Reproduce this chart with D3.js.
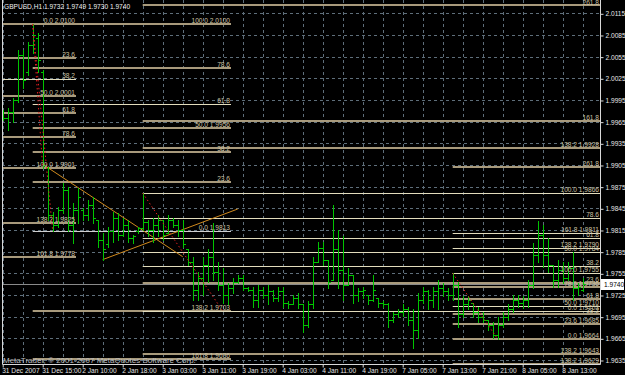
<!DOCTYPE html>
<html><head><meta charset="utf-8">
<script src="https://cdn.jsdelivr.net/npm/d3@7"></script>
<style>body{margin:0;background:#000;overflow:hidden}svg{display:block}</style>
</head><body>
<svg id="c" width="625" height="375"></svg>
<script>
// ---------- DATA ----------
const symbolTitle = "GBPUSD,H1 1.9732 1.9749 1.9730 1.9740";
const copyright = "MetaTrader, \u00a9 2001-2007 MetaQuotes Software Corp.";
const opens=[1.9979,1.9970,1.9979,1.9995,2.0057,2.0034,2.0071,2.0081,2.0034,1.9901,
1.9836,1.9822,1.9843,1.9871,1.9822,1.9843,1.9843,1.9836,1.9850,1.9829,
1.9801,1.9795,1.9813,1.9832,1.9808,1.9822,1.9804,1.9813,1.9818,1.9826,
1.9815,1.9822,1.9829,1.9811,1.9829,1.9822,1.9815,1.9788,1.9771,1.9732,
1.9749,1.9767,1.9777,1.9757,1.9739,1.9725,1.9735,1.9743,1.9749,1.9735,
1.9732,1.9718,1.9732,1.9725,1.9730,1.9721,1.9730,1.9714,1.9712,1.9721,
1.9712,1.9684,1.9712,1.9771,1.9790,1.9774,1.9746,1.9788,1.9760,1.9739,
1.9753,1.9725,1.9730,1.9725,1.9718,1.9721,1.9714,1.9712,1.9691,1.9698,
1.9702,1.9705,1.9691,1.9677,1.9718,1.9730,1.9718,1.9730,1.9735,1.9730,
1.9725,1.9739,1.9698,1.9712,1.9714,1.9702,1.9694,1.9691,1.9683,1.9670,
1.9684,1.9694,1.9705,1.9718,1.9714,1.9718,1.9739,1.9781,1.9808,1.9781,
1.9767,1.9746,1.9760,1.9749,1.9763,1.9735,1.9732];
const highs=[1.9981,1.9984,1.9998,2.0064,2.0064,2.0075,2.0100,2.0088,2.0037,1.9902,
1.9840,1.9847,1.9880,1.9875,1.9853,1.9873,1.9846,1.9857,1.9861,1.9829,
1.9811,1.9819,1.9840,1.9839,1.9832,1.9829,1.9808,1.9819,1.9866,1.9829,
1.9832,1.9836,1.9829,1.9836,1.9832,1.9829,1.9829,1.9788,1.9778,1.9757,
1.9777,1.9788,1.9825,1.9770,1.9763,1.9742,1.9749,1.9753,1.9753,1.9736,
1.9736,1.9739,1.9736,1.9739,1.9732,1.9736,1.9736,1.9716,1.9725,1.9728,
1.9712,1.9716,1.9777,1.9799,1.9799,1.9774,1.9850,1.9815,1.9806,1.9763,
1.9753,1.9735,1.9736,1.9725,1.9753,1.9721,1.9716,1.9714,1.9702,1.9705,
1.9712,1.9709,1.9705,1.9728,1.9736,1.9732,1.9736,1.9746,1.9742,1.9735,
1.9755,1.9743,1.9723,1.9723,1.9714,1.9709,1.9701,1.9691,1.9687,1.9694,
1.9701,1.9712,1.9725,1.9725,1.9723,1.9746,1.9797,1.9828,1.9822,1.9804,
1.9767,1.9774,1.9771,1.9770,1.9784,1.9742,1.9749];
const lows=[1.9967,1.9954,1.9965,1.9992,2.0012,2.0030,2.0060,2.0034,1.9901,1.9829,
1.9813,1.9819,1.9839,1.9813,1.9797,1.9825,1.9829,1.9829,1.9825,1.9792,
1.9774,1.9792,1.9799,1.9801,1.9806,1.9799,1.9797,1.9811,1.9815,1.9806,
1.9799,1.9806,1.9801,1.9811,1.9819,1.9806,1.9792,1.9767,1.9718,1.9718,
1.9725,1.9743,1.9746,1.9732,1.9714,1.9712,1.9728,1.9742,1.9732,1.9730,
1.9709,1.9709,1.9721,1.9712,1.9716,1.9716,1.9709,1.9707,1.9712,1.9707,
1.9674,1.9680,1.9707,1.9770,1.9767,1.9735,1.9746,1.9735,1.9718,1.9739,
1.9714,1.9716,1.9721,1.9712,1.9716,1.9709,1.9709,1.9681,1.9687,1.9694,
1.9696,1.9684,1.9652,1.9666,1.9714,1.9705,1.9709,1.9705,1.9723,1.9718,
1.9718,1.9680,1.9695,1.9705,1.9694,1.9687,1.9687,1.9677,1.9666,1.9664,
1.9681,1.9691,1.9702,1.9709,1.9707,1.9709,1.9735,1.9771,1.9764,1.9757,
1.9736,1.9736,1.9742,1.9746,1.9718,1.9725,1.9730];
const closes=[1.9970,1.9979,1.9995,2.0057,2.0023,2.0071,2.0085,2.0050,1.9905,1.9836,
1.9822,1.9843,1.9871,1.9822,1.9843,1.9860,1.9836,1.9850,1.9832,1.9801,
1.9788,1.9813,1.9832,1.9808,1.9822,1.9804,1.9806,1.9818,1.9826,1.9815,
1.9822,1.9829,1.9808,1.9829,1.9822,1.9815,1.9795,1.9771,1.9732,1.9749,
1.9767,1.9777,1.9757,1.9739,1.9725,1.9735,1.9743,1.9749,1.9735,1.9732,
1.9718,1.9732,1.9725,1.9730,1.9721,1.9730,1.9714,1.9712,1.9721,1.9712,
1.9684,1.9712,1.9771,1.9790,1.9774,1.9743,1.9788,1.9760,1.9739,1.9753,
1.9725,1.9730,1.9732,1.9718,1.9732,1.9714,1.9712,1.9691,1.9698,1.9702,
1.9705,1.9691,1.9677,1.9718,1.9730,1.9718,1.9730,1.9735,1.9730,1.9725,
1.9739,1.9698,1.9712,1.9718,1.9702,1.9694,1.9691,1.9683,1.9670,1.9684,
1.9694,1.9705,1.9718,1.9714,1.9718,1.9739,1.9781,1.9808,1.9781,1.9767,
1.9746,1.9760,1.9749,1.9763,1.9735,1.9736,1.9740];
const timeLabels=["31 Dec 2007","31 Dec 15:00","2 Jan 10:00","2 Jan 18:00","3 Jan 03:00","3 Jan 11:00","3 Jan 19:00","4 Jan 03:00","4 Jan 11:00","4 Jan 19:00","7 Jan 05:00","7 Jan 13:00","7 Jan 21:00","8 Jan 05:00","8 Jan 13:00"];
const timeLabelBars=[0,8,16,24,32,40,48,56,64,72,80,88,96,104,112];
const priceTicks=[2.0115,2.0085,2.0055,2.0025,1.9995,1.9965,1.9935,1.9905,1.9875,1.9845,1.9815,1.9785,1.9755,1.9725,1.9695,1.9665,1.9635];
const bidPrice=1.9740;

// Fibonacci objects: levels (prices), level texts, span in bar units
const fibALevels=[2.0100,2.0053,2.0024,2.0001,1.9977,1.9944,1.9901,1.9825,1.9778];
const fibALabels=["0.0 2.0100","23.6","38.2","50.0 2.0001","61.8","78.6","100.0 1.9901","138.2 1.9825","161.8 1.9778"];
const fibASpan=[-1,14.66];
const fibAAnchors=[[6,2.0100],[8,1.9901]];

const fibBLevels=[2.0100,2.0039,1.9990,1.9956,1.9923,1.9881,1.9813,1.9703,1.9636];
const fibBLabels=["100.0 2.0100","78.6","61.8","50.0 1.9956","38.2","23.6","0.0 1.9813","138.2 1.9703","161.8 1.9636"];
const fibBSpan=[6,45.66];
const fibBAnchors=[[6,2.0100],[10,1.9813]];

const fibCLevels=[2.0127,1.9966,1.9928,1.9866,1.9831,1.9804,1.9784,1.9765,1.9741,1.9703,1.9643];
const fibCLabels=["261.8","161.8","138.2 1.9928","100.0 1.9866","78.6","61.8","50.0 1.9784","38.2","23.6","0.0 1.9703","138.2 1.9643"];
const fibCSpan=[28,125];
const fibCAnchors=[[28,1.9866],[44,1.9703]];

const fibDLevels=[1.9902,1.9811,1.9790,1.9755,1.9736,1.9720,1.9710,1.9699,1.9685,1.9664,1.9629];
const fibDLabels=["261.8","161.8 1.9811","138.2 1.9790","100.0 1.9755","78.6 1.9736","61.8","50.0 1.9710","38.2","23.6 1.9685","0.0 1.9664","138.2 1.9629"];
const fibDSpan=[90,125];
const fibDAnchors=[[90,1.9755],[99,1.9664]];

const trendLine1=[[8,1.9906],[36,1.9778]];
const trendLine2=[[20,1.9774],[47,1.9844]];

// ---------- STYLE ----------
const paleLevels={A:["38.2"],B:["61.8","0.0 1.9813"],C:["100.0 1.9866","78.6","61.8","50.0 1.9784","38.2","0.0 1.9703"],D:["161.8 1.9811","138.2 1.9790","100.0 1.9755","50.0 1.9710"]};
const FONT="Liberation Sans, Arial, sans-serif";
const plotL=2, plotR=600, plotT=0, plotB=364;

// ---------- CHART ----------
const svg=d3.select("#c");
svg.append("rect").attr("width",625).attr("height",375).attr("fill","#000");
const x=d3.scaleLinear().domain([0,116]).range([2.7,582.7]);
const y=d3.scaleLinear().domain([1.9635,2.0115]).range([360,13.3]);
const px=v=>Math.round(x(v))+0.5;
const py=v=>Math.round(y(v))+0.5;

svg.append("defs").append("clipPath").attr("id","clip").append("rect")
  .attr("x",plotL).attr("y",plotT).attr("width",plotR-plotL).attr("height",plotB-plotT);
const g=svg.append("g").attr("clip-path","url(#clip)");

// grid
const gridColor="#5e6e7a";
g.selectAll("line.hg").data(priceTicks).join("line").attr("class","hg")
  .attr("x1",plotL).attr("x2",plotR).attr("y1",d=>py(d)).attr("y2",d=>py(d))
  .attr("stroke",gridColor).attr("stroke-dasharray","3,3");
const vgrid=d3.range(0,117,4);
g.selectAll("line.vg").data(vgrid).join("line").attr("class","vg")
  .attr("x1",d=>px(d)).attr("x2",d=>px(d)).attr("y1",plotT).attr("y2",plotB)
  .attr("stroke",gridColor).attr("stroke-dasharray","3,3");

// fib levels
function drawFib(key,levels,labels,span){
  const x1=Math.max(plotL,x(span[0])), x2=Math.min(plotR,x(span[1]));
  const pale=paleLevels[key];
  levels.forEach((lv,i)=>{
    const isPale=pale.includes(labels[i]);
    const yy=Math.round(y(lv));
    if(isPale){
      g.append("line").attr("x1",x1).attr("x2",x2).attr("y1",yy+0.5).attr("y2",yy+0.5)
        .attr("stroke",labels[i]==="0.0 1.9813"?"#cfcfcf":"#e2dcbc").attr("stroke-width",1);
    } else {
      g.append("line").attr("x1",x1).attr("x2",x2).attr("y1",yy).attr("y2",yy)
        .attr("stroke","#a89a7c").attr("stroke-width",2);
    }
  });
  return {x2,levels,labels};
}
const fibs=[drawFib("A",fibALevels,fibALabels,fibASpan),drawFib("B",fibBLevels,fibBLabels,fibBSpan),
            drawFib("C",fibCLevels,fibCLabels,fibCSpan),drawFib("D",fibDLevels,fibDLabels,fibDSpan)];

// bid line
g.append("line").attr("x1",plotL).attr("x2",plotR).attr("y1",py(bidPrice)).attr("y2",py(bidPrice))
  .attr("stroke","#8a8a8a").attr("stroke-width",1);

// trend lines
const line=d3.line().x(d=>x(d[0])).y(d=>y(d[1]));
[trendLine1,trendLine2].forEach(t=>g.append("path").attr("d",line(t)).attr("fill","none")
  .attr("stroke","#d08a1e").attr("stroke-width",1));

// bars
const bars=g.append("g");
opens.forEach((o,i)=>{
  const xx=px(i);
  bars.append("line").attr("x1",xx).attr("x2",xx).attr("y1",Math.round(y(highs[i]))).attr("y2",Math.round(y(lows[i]))+1)
    .attr("stroke","#00c400");
  bars.append("line").attr("x1",xx-2.5).attr("x2",xx).attr("y1",py(o)).attr("y2",py(o)).attr("stroke","#00c400");
  bars.append("line").attr("x1",xx).attr("x2",xx+2.5).attr("y1",py(closes[i])).attr("y2",py(closes[i])).attr("stroke","#00c400");
});

// fib anchor dotted lines
[fibAAnchors,fibBAnchors,fibCAnchors,fibDAnchors].forEach(a=>g.append("path").attr("d",line(a)).attr("fill","none")
  .attr("stroke","#e02020").attr("stroke-width",1).attr("stroke-dasharray","1.5,2.5"));

// fib labels
fibs.forEach(f=>{
  f.levels.forEach((lv,i)=>{
    svg.append("text").attr("x",f.x2-1).attr("y",Math.max(5,Math.round(y(lv))-1.5)).attr("text-anchor","end")
      .attr("font-family",FONT).attr("font-size",6.6).attr("fill","#cdc3a4").text(f.labels[i]);
  });
});

// frame
svg.append("path").attr("d",`M${plotL+0.5},0V${plotB+0.5}H${plotR+0.5}V0`).attr("fill","none").attr("stroke","#d8d8d8");

// right axis
const ya=svg.append("g").attr("transform",`translate(${plotR+0.5},0.5)`)
  .call(d3.axisRight(y).tickValues(priceTicks).tickFormat(d3.format(".4f")).tickSize(3).tickPadding(2));
ya.select(".domain").remove();
ya.selectAll(".tick line").attr("stroke","#d8d8d8");
ya.selectAll(".tick text").attr("fill","#e6e6e6").attr("font-family",FONT).attr("font-size",6.6);

// bottom axis
const xa=svg.append("g").attr("transform",`translate(0,${plotB+0.5})`)
  .call(d3.axisBottom(x).tickValues(timeLabelBars).tickFormat((d,i)=>timeLabels[i]).tickSize(3).tickPadding(1));
xa.select(".domain").remove();
xa.selectAll(".tick line").attr("stroke","#d8d8d8");
xa.selectAll(".tick text").attr("fill","#e6e6e6").attr("font-family",FONT).attr("font-size",6.6)
  .attr("text-anchor","start").attr("dx",-1);

// bid price box
const by=Math.round(y(bidPrice));
svg.append("rect").attr("x",plotR+1).attr("y",by-5).attr("width",23).attr("height",11).attr("fill","#fff");
svg.append("text").attr("x",plotR+4).attr("y",by+3).attr("font-family",FONT).attr("font-size",6.6).attr("fill","#000").text(d3.format(".4f")(bidPrice));

// title & copyright
svg.append("text").attr("x",4).attr("y",9).attr("font-family",FONT).attr("font-size",6.6).attr("fill","#f0f0f0").text(symbolTitle);
svg.append("text").attr("x",3).attr("y",363).attr("font-family",FONT).attr("font-size",8).attr("fill","#bdbdbd").text(copyright);
</script>
</body></html>
